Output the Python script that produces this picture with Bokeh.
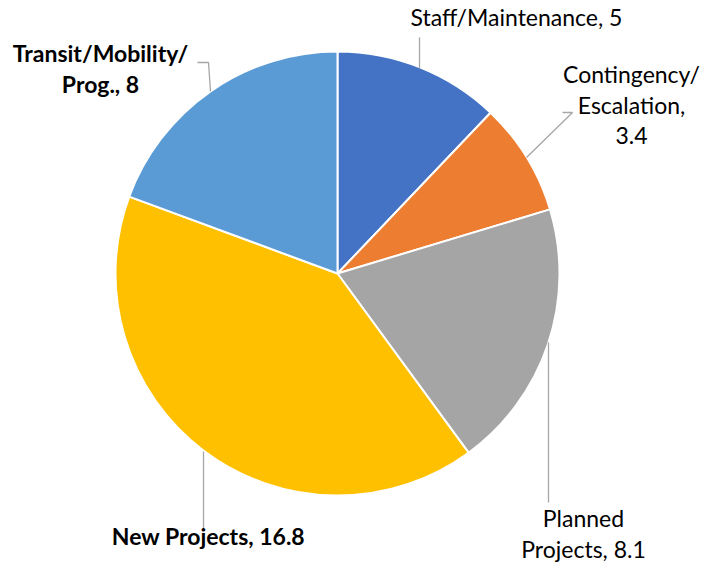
import math
from bokeh.plotting import figure
from bokeh.models import Range1d
from bokeh.embed import file_html
from bokeh.resources import INLINE
from bokeh.core.properties import value

# ---- data ----
categories = ["Staff/Maintenance", "Contingency/Escalation", "Planned Projects", "New Projects", "Transit/Mobility/Prog."]
values = [5, 3.4, 8.1, 16.8, 8]
colors = ["#4472C4", "#ED7D31", "#A5A5A5", "#FFC000", "#5B9BD5"]
label_lines = [
    ["Staff/Maintenance, 5"],
    ["Contingency/", "Escalation,", "3.4"],
    ["Planned", "Projects, 8.1"],
    ["New Projects, 16.8"],
    ["Transit/Mobility/", "Prog., 8"],
]
bold = [False, False, False, True, True]

W, H = 702, 564
cx, cy, R = 337, 273, 222

def Y(py):
    return H - py

p = figure(width=W, height=H, output_backend="svg", toolbar_location=None,
           x_range=Range1d(0, W), y_range=Range1d(0, H), min_border=0)
p.axis.visible = False
p.grid.visible = False
p.outline_line_color = None
p.background_fill_color = "white"

total = sum(values)
cum = 0.0
starts, ends = [], []
for v in values:
    a0 = math.pi / 2 - 2 * math.pi * cum / total
    cum += v
    a1 = math.pi / 2 - 2 * math.pi * cum / total
    starts.append(a0)
    ends.append(a1)

p.wedge(x=[cx] * len(values), y=[Y(cy)] * len(values), radius=R,
        start_angle=starts, end_angle=ends, direction="clock",
        fill_color=colors, line_color="white", line_width=2)

# leader lines (pixel layout)
leaders = [
    ([419, 419], [37, 68]),
    ([562, 572, 526], [112, 112, 157]),
    ([548, 548], [342, 502]),
    ([203, 203], [451, 530]),
    ([197, 208, 210], [62, 62, 91]),
]
p.multi_line(xs=[l[0] for l in leaders], ys=[[Y(v) for v in l[1]] for l in leaders],
             line_color="#A6A6A6", line_width=1.3)

# label positions (pixel layout): center x, first line y
label_pos = [(516, 16), (631, 73), (583, 517), (208, 535), (100, 52)]
line_h = 31
for i, lines in enumerate(label_lines):
    lx, ly = label_pos[i]
    xs = [lx] * len(lines)
    ys = [Y(ly + k * line_h) for k in range(len(lines))]
    p.text(x=xs, y=ys, text=lines, text_align="center", text_baseline="middle",
           text_font=value("Lato"), text_font_size="23px",
           text_font_style="bold" if bold[i] else "normal", text_color="#000000")

open("out.html", "w").write(file_html(p, INLINE))
